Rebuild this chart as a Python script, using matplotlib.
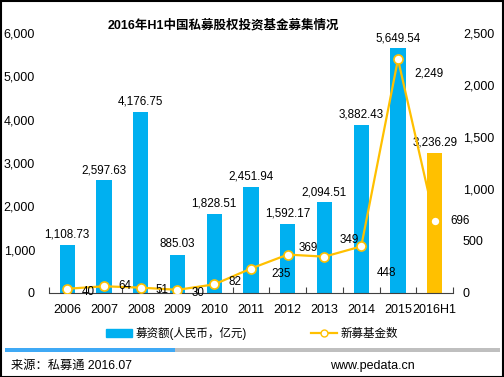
import matplotlib.pyplot as plt
import numpy as np
from matplotlib.lines import Line2D
from matplotlib.patches import Rectangle

plt.rcParams["font.family"] = ["Liberation Sans", "Noto Sans CJK SC", "DejaVu Sans"]

categories = ["2006", "2007", "2008", "2009", "2010", "2011", "2012", "2013", "2014", "2015", "2016H1"]
amount = [1108.73, 2597.63, 4176.75, 885.03, 1828.51, 2451.94, 1592.17, 2094.51, 3882.43, 5649.54, 3236.29]
fund_count = [40, 64, 51, 30, 82, 235, 369, 349, 448, 2249, 696]

# label offsets for the line values (points)
count_offsets = [(15, -2), (15, 0), (15, -2), (15, -2), (15, 2), (22, -4), (15, 5), (18, 12), (18, -19), (22, -10), (18, 0)]

BLUE = "#00B0F0"
ORANGE = "#FFC000"

fig = plt.figure(figsize=(5.04, 3.77), dpi=100)
ax = fig.add_axes([0.097, 0.223, 0.802, 0.689])
ax2 = ax.twinx()

x = np.arange(len(categories))
colors = [BLUE] * (len(categories) - 1) + [ORANGE]
ax.bar(x, amount, width=0.42, color=colors, zorder=2)
ax.set_xlim(-0.5, len(categories) - 0.5)
ax.set_ylim(0, 6000)
ax.set_yticks(range(0, 6001, 1000))
ax.set_yticklabels([f"{v:,}" for v in range(0, 6001, 1000)])

for xi, v in zip(x, amount):
    ax.annotate(f"{v:,.2f}", (xi, v), xytext=(0, 3), textcoords="offset points",
                ha="center", va="bottom", fontsize=8.4)

ax2.plot(x, fund_count, color=ORANGE, lw=1.6, marker="o", ms=6.5,
         markerfacecolor="white", markeredgecolor=ORANGE, markeredgewidth=1.2, zorder=3)
ax2.set_ylim(0, 2500)
ax2.set_yticks(range(0, 2501, 500))
ax2.set_yticklabels([f"{v:,}" for v in range(0, 2501, 500)])
for xi, v, (dx, dy) in zip(x, fund_count, count_offsets):
    ax2.annotate(f"{v:,}", (xi, v), xytext=(dx, dy), textcoords="offset points",
                 ha="center", va="center", fontsize=8.4)

for a in (ax, ax2):
    for s in ("top", "left", "right"):
        a.spines[s].set_visible(False)
    a.tick_params(axis="y", length=0, labelsize=9, pad=10)
ax2.tick_params(axis="y", pad=7)
ax.spines["bottom"].set_color("#404040")
ax2.spines["bottom"].set_visible(False)

ax.set_xticks(np.arange(-0.5, len(categories), 1))
ax.set_xticklabels([])
ax.tick_params(axis="x", direction="in", length=4, color="#404040")
ax.set_xticks(x, minor=True)
ax.set_xticklabels(categories, minor=True)
ax.tick_params(axis="x", which="minor", length=0, labelsize=9, pad=8)

fig.text(0.443, 0.934, "2016年H1中国私募股权投资基金募集情况", ha="center", va="center",
         fontsize=9, fontweight="bold")

handles = [Rectangle((0, 0), 1, 1, color=BLUE),
           Line2D([], [], color=ORANGE, lw=1.6, marker="o", ms=5,
                  markerfacecolor="white", markeredgecolor=ORANGE)]
fig.legend(handles, ["募资额(人民币，亿元)", "新募基金数"], loc="center",
           bbox_to_anchor=(0.5, 0.115), ncol=2, frameon=False, fontsize=8.3,
           handlelength=2.3, handleheight=0.6, columnspacing=5.5, handletextpad=0.3)

fig.add_artist(Rectangle((0.01, 0.067), 0.337, 0.011, transform=fig.transFigure, color="#3FA9F5", lw=0))
fig.add_artist(Rectangle((0.347, 0.067), 0.645, 0.011, transform=fig.transFigure, color="#BFBFBF", lw=0))
fig.text(0.022, 0.03, "来源：私募通 2016.07", ha="left", va="center", fontsize=8.8)
fig.text(0.655, 0.03, "www.pedata.cn", ha="left", va="center", fontsize=9)
fig.add_artist(Rectangle((0.001, 0.001), 0.997, 0.997, transform=fig.transFigure,
                         fill=False, edgecolor="black", lw=1.5))

fig.savefig("out.png", dpi=100)
